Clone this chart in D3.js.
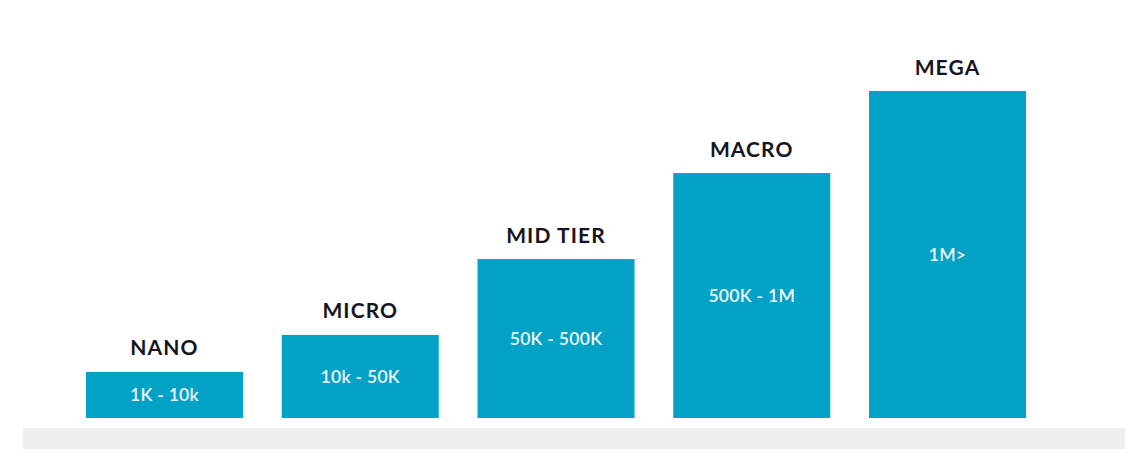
<!DOCTYPE html>
<html>
<head>
<meta charset="utf-8">
<script src="https://cdn.jsdelivr.net/npm/d3@7"></script>
<style>
  body { margin: 0; background: #fff; }
  #chart { width: 1148px; height: 474px; }
</style>
</head>
<body>
<div id="chart"></div>
<script>
    // tiers, their follower ranges and the relative bar heights
    var tiers = ["NANO", "MICRO", "MID TIER", "MACRO", "MEGA"];
    var ranges = ["1K - 10k", "10k - 50K", "50K - 500K", "500K - 1M", "1M>"];
    var heights = [14.1, 25.4, 48.6, 74.9, 100];

    var width = 1148, height = 474;

    var data = tiers.map((t, i) => ({tier: t, range: ranges[i], h: heights[i]}));

    var x = d3.scaleBand()
        .domain(tiers)
        .range([86, 1026])
        .paddingInner(0.198)
        .paddingOuter(0);

    var y = d3.scaleLinear()
        .domain([0, 100])
        .range([418, 91]);

    const svg = d3.select('#chart')
        .append('svg')
        .attr('width', width)
        .attr('height', height);

    // grey floor band
    svg.append("rect")
        .attr("x", 23)
        .attr("y", 428)
        .attr("width", 1102)
        .attr("height", 21)
        .attr("fill", "#eeeff1");

    const bar = svg.selectAll("g.bar")
        .data(data)
        .join("g")
        .attr("class", "bar");

    bar.append("rect")
        .attr("x", d => x(d.tier))
        .attr("y", d => y(d.h))
        .attr("width", x.bandwidth())
        .attr("height", d => y(0) - y(d.h))
        .attr("fill", "#02a2c7");

    bar.append("text")
        .attr("x", d => x(d.tier) + x.bandwidth() / 2)
        .attr("y", d => y(d.h) - 16.5)
        .attr("text-anchor", "middle")
        .attr("font-family", "Lato, sans-serif")
        .attr("font-weight", "bold")
        .attr("font-size", 21)
        .attr("letter-spacing", 1.1)
        .attr("fill", "#15151f")
        .text(d => d.tier);

    bar.append("text")
        .attr("x", d => x(d.tier) + x.bandwidth() / 2)
        .attr("y", d => (y(d.h) + y(0)) / 2)
        .attr("dy", "0.36em")
        .attr("text-anchor", "middle")
        .attr("font-family", "Lato, sans-serif")
        .attr("font-weight", 600)
        .attr("font-size", 17.5)
        .attr("letter-spacing", 0.3)
        .attr("fill", "#f2f6f8")
        .text(d => d.range);
</script>
</body>
</html>
